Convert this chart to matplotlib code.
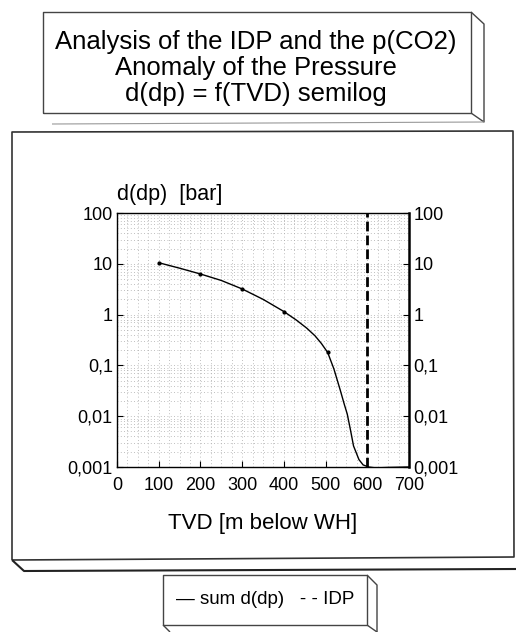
import matplotlib
matplotlib.use('Agg')
import matplotlib.pyplot as plt
from matplotlib.lines import Line2D
from matplotlib.ticker import FixedLocator, FuncFormatter, MultipleLocator, LogLocator, NullFormatter

plt.rcParams['font.family'] = ['Liberation Sans', 'DejaVu Sans']

# curve
tvd = [100, 150, 200, 250, 300, 350, 400, 430, 455, 475, 490, 505, 520, 535, 545, 552, 560, 567, 580, 590, 603, 620, 650, 700]
sum_ddp = [10.5, 8.2, 6.3, 4.7, 3.2, 2.0, 1.15, 0.78, 0.54, 0.38, 0.27, 0.18, 0.085, 0.033, 0.017, 0.011,
           0.0052, 0.0026, 0.0014, 0.0011, 0.001, 0.00096, 0.00098, 0.001]
marker_tvd = [100, 200, 300, 400, 505]
marker_ddp = [10.5, 6.3, 3.2, 1.15, 0.18]
idp_tvd = 600

y_ticks = [0.001, 0.01, 0.1, 1, 10, 100]
y_labels = ['0,001', '0,01', '0,1', '1', '10', '100']
x_ticks = [0, 100, 200, 300, 400, 500, 600, 700]

W, H = 516, 632
fig = plt.figure(figsize=(W / 100, H / 100), dpi=100)


def px(x, y):
    return x / W, 1 - y / H


def poly(points, lw=1.2, color='black'):
    xs = [px(x, y)[0] for x, y in points]
    ys = [px(x, y)[1] for x, y in points]
    fig.add_artist(Line2D(xs, ys, lw=lw, color=color, solid_capstyle='butt'))


# title box with 3D side
poly([(43, 113), (43, 12), (471, 12), (471, 113), (43, 113)], lw=1.0, color='#444444')
poly([(471, 12), (484, 24), (484, 122), (471, 113)], lw=1.0, color='#444444')
poly([(52, 124), (484, 122)], lw=0.8, color='#999999')
fig.text(*px(256, 68), 'Analysis of the IDP and the p(CO2)\nAnomaly of the Pressure\nd(dp) = f(TVD) semilog',
         ha='center', va='center', fontsize=18.5, linespacing=1.12)

# main panel
poly([(12, 560), (12, 132), (513, 131), (514, 557), (12, 560)], lw=1.2, color='#333333')
poly([(12, 560), (24, 571), (516, 569)], lw=1.5, color='#222222')

# legend box
poly([(163, 625), (163, 575), (367, 575), (367, 625), (163, 625)], lw=1.0, color='#444444')
poly([(367, 575), (377, 585), (377, 632)], lw=1.0, color='#444444')
poly([(367, 625), (377, 632)], lw=1.0, color='#444444')
poly([(163, 625), (170, 632)], lw=1.0, color='#444444')

ax = fig.add_axes([117 / W, 1 - 467 / H, (409 - 117) / W, (467 - 213) / H])
ax.set_yscale('log')
ax.set_xlim(0, 700)
ax.set_ylim(0.001, 100)

ax.plot(tvd, sum_ddp, color='black', lw=1.0, label='sum d(dp)')
ax.plot(marker_tvd, marker_ddp, 'o', color='black', ms=2.0)
ax.axvline(idp_tvd, color='black', lw=2.0, ls=(0, (3.5, 1.5)), label='IDP')

ax.yaxis.set_major_locator(FixedLocator(y_ticks))
ax.yaxis.set_major_formatter(FuncFormatter(lambda v, p: y_labels[y_ticks.index(v)] if v in y_ticks else ''))
ax.yaxis.set_minor_locator(LogLocator(base=10, subs=range(2, 10)))
ax.yaxis.set_minor_formatter(NullFormatter())
ax.xaxis.set_major_locator(FixedLocator(x_ticks))
ax.xaxis.set_minor_locator(MultipleLocator(25))

ax.grid(which='both', color='#aaaaaa', ls=(0, (1, 3)), lw=0.6)
ax.tick_params(which='major', direction='in', length=4, labelsize=13, right=True, labelright=True, pad=3)
ax.tick_params(axis='x', which='major', pad=7)
ax.tick_params(which='minor', length=0)
for s in ax.spines.values():
    s.set_linewidth(1.0)
ax.spines['right'].set_linewidth(1.8)

ax.set_xlabel('TVD [m below WH]', fontsize=16, labelpad=14)
ax.text(0, 1.051, 'd(dp)  [bar]', transform=ax.transAxes, fontsize=15.5, ha='left', va='baseline')

fig.text(*px(265, 599), '\u2014 sum d(dp)   - - IDP', ha='center', va='center', fontsize=13.5)

fig.savefig('out.png', dpi=100)
